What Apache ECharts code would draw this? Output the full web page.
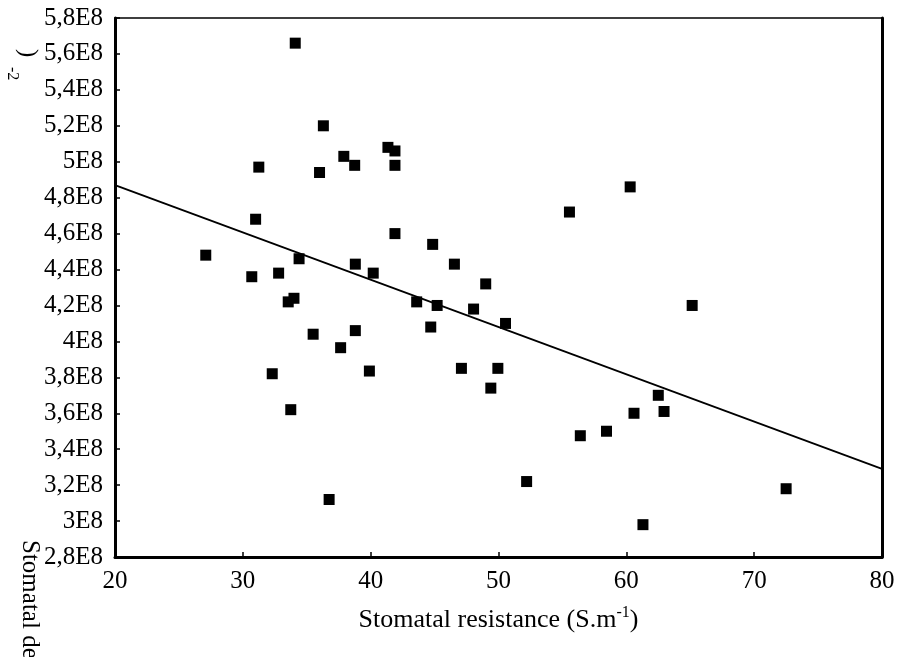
<!DOCTYPE html>
<html>
<head>
<meta charset="utf-8">
<script src="https://cdn.jsdelivr.net/npm/echarts@6/dist/echarts.min.js"></script>
<style>
  html, body { margin: 0; padding: 0; background: #fff; }
  #chart { width: 898px; height: 657px; }
</style>
</head>
<body>
<div id="chart"></div>
<script>
// stomatal resistance (S.m-1)
const resistance = [
    34.1, 36.3, 31.25, 36.0, 37.9, 38.75, 41.35, 41.9, 41.9, 31.0,
    41.9, 27.1, 34.4, 38.8, 30.7, 32.8, 40.2, 33.55, 34.0, 35.5,
    37.65, 38.8, 39.9, 32.3, 33.75, 36.75, 44.85, 46.55, 49.0, 43.6,
    45.2, 48.05, 50.55, 44.7, 47.1, 49.95, 49.4, 55.55, 60.3, 52.2,
    56.4, 58.45, 60.6, 62.5, 62.95, 61.3, 65.15, 72.5
];
// stomatal density (m-2)
const density = [
    5.66e8, 5.20e8, 4.97e8, 4.94e8, 5.03e8, 4.98e8, 5.08e8, 5.06e8, 4.98e8, 4.68e8,
    4.60e8, 4.48e8, 4.46e8, 4.43e8, 4.36e8, 4.38e8, 4.38e8, 4.22e8, 4.24e8, 4.04e8,
    3.965e8, 4.06e8, 3.835e8, 3.82e8, 3.62e8, 3.12e8, 4.54e8, 4.43e8, 4.32e8, 4.22e8,
    4.20e8, 4.18e8, 4.10e8, 4.08e8, 3.85e8, 3.85e8, 3.74e8, 4.72e8, 4.86e8, 3.22e8,
    3.475e8, 3.50e8, 3.60e8, 3.70e8, 3.61e8, 2.98e8, 4.20e8, 3.18e8
];
// regression line end points
const fitX = [20, 80];
const fitY = [4.87e8, 3.29e8];

const xTicks = { min: 20, max: 80, step: 10 };
const yTicks = { min: 2.8e8, max: 5.8e8, step: 0.2e8 };

const serif = '"Liberation Serif", "Times New Roman", serif';

const fmtE8 = v => String(Math.round(v / 1e7) / 10).replace('.', ',') + 'E8';

const chart = echarts.init(document.getElementById('chart'));
chart.setOption({
    animation: false,
    backgroundColor: '#fff',
    grid: {
        left: 115, right: 16, top: 18, bottom: 100,
        show: true, borderColor: '#000', borderWidth: 1.5
    },
    xAxis: {
        type: 'value',
        min: xTicks.min, max: xTicks.max, interval: xTicks.step,
        splitLine: { show: false },
        axisLine: { lineStyle: { color: '#000', width: 3 } },
        axisTick: { inside: true, length: 5, lineStyle: { color: '#000', width: 1.5 } },
        axisLabel: { color: '#000', fontFamily: serif, fontSize: 25, margin: 12 },
        name: '{a|Stomatal resistance (S.m}{s|-1}{a|)}',
        nameLocation: 'middle',
        nameGap: 48,
        nameTextStyle: {
            rich: {
                a: { fontFamily: serif, fontSize: 26, color: '#000', lineHeight: 30 },
                s: { fontFamily: serif, fontSize: 16, color: '#000', lineHeight: 30, verticalAlign: 'top' }
            }
        }
    },
    yAxis: [
        {
            type: 'value',
            min: yTicks.min, max: yTicks.max, interval: yTicks.step,
            splitLine: { show: false },
            axisLine: { show: true, lineStyle: { color: '#000', width: 3 } },
            axisTick: { inside: true, length: 5, lineStyle: { color: '#000', width: 1.5 } },
            axisLabel: { color: '#000', fontFamily: serif, fontSize: 25, margin: 12, formatter: fmtE8 }
        },
        {
            type: 'value', position: 'right',
            min: yTicks.min, max: yTicks.max,
            splitLine: { show: false },
            axisLine: { show: true, lineStyle: { color: '#000', width: 3 } },
            axisTick: { show: false },
            axisLabel: { show: false }
        }
    ],
    graphic: [
        {
            type: 'text', x: 30, y: 540, rotation: -Math.PI / 2,
            style: { text: 'Stomatal density (m', font: '25px ' + serif, fill: '#000', align: 'left', verticalAlign: 'middle' }
        },
        {
            type: 'text', x: 28, y: 49, rotation: -Math.PI / 2,
            style: { text: ')', font: '25px ' + serif, fill: '#000', align: 'left', verticalAlign: 'middle' }
        },
        {
            type: 'text', x: 12, y: 67, rotation: -Math.PI / 2,
            style: { text: '-2', font: '16px ' + serif, fill: '#000', align: 'left', verticalAlign: 'middle' }
        }
    ],
    series: [
        {
            type: 'scatter',
            symbol: 'rect',
            symbolSize: 11,
            itemStyle: { color: '#000', opacity: 1 },
            data: resistance.map((x, i) => [x, density[i]])
        },
        {
            type: 'line',
            symbol: 'none',
            lineStyle: { color: '#000', width: 1.8 },
            data: fitX.map((x, i) => [x, fitY[i]])
        }
    ]
});
</script>
</body>
</html>
